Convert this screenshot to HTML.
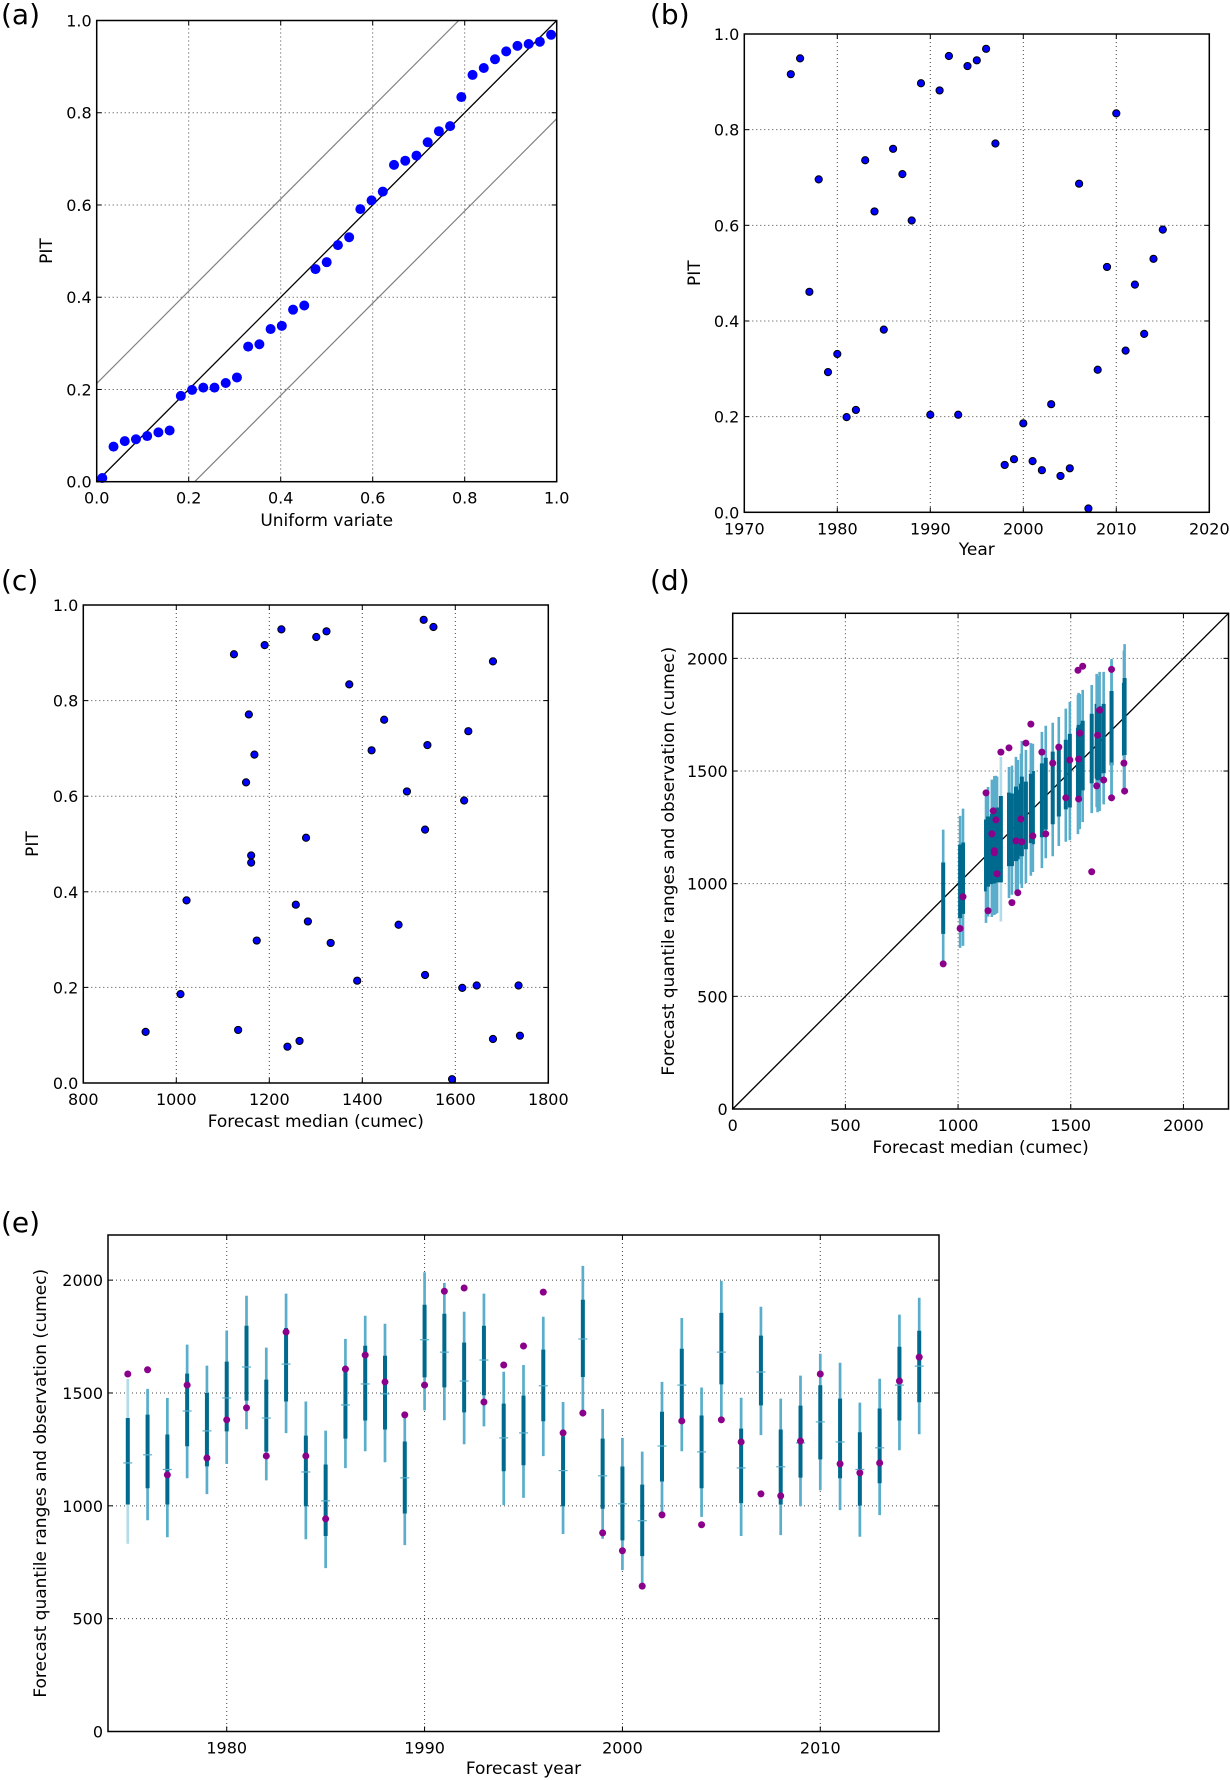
<!DOCTYPE html>
<html><head><meta charset="utf-8"><style>
html,body{margin:0;padding:0;background:#fff;}
svg{display:block;font-family:"DejaVu Sans","Liberation Sans",sans-serif;}
</style></head><body>
<svg id="fig" width="1230" height="1780" viewBox="0 0 1230 1780" xmlns="http://www.w3.org/2000/svg"></svg>
<script>
const years=[1975,1976,1977,1978,1979,1980,1981,1982,1983,1984,1985,1986,1987,1988,1989,1990,1991,1992,1993,1994,1995,1996,1997,1998,1999,2000,2001,2002,2003,2004,2005,2006,2007,2008,2009,2010,2011,2012,2013,2014,2015];
const pit=[0.916,0.949,0.461,0.696,0.293,0.331,0.199,0.214,0.736,0.629,0.382,0.760,0.707,0.610,0.897,0.204,0.882,0.954,0.204,0.933,0.945,0.969,0.771,0.099,0.111,0.186,0.107,0.088,0.226,0.076,0.092,0.687,0.008,0.298,0.513,0.834,0.338,0.476,0.373,0.530,0.591];
const median=[1190,1226,1161,1420,1332,1478,1615,1389,1628,1150,1022,1447,1540,1496,1124,1736,1681,1553,1646,1301,1323,1532,1156,1739,1133,1009,934,1265,1535,1239,1681,1168,1593,1173,1279,1372,1283,1161,1257,1535,1619];
const outerHi=[1562,1518,1478,1714,1621,1777,1931,1701,1940,1462,1333,1740,1842,1807,1389,2035,1988,1860,1940,1594,1624,1838,1460,2063,1429,1301,1240,1549,1832,1524,1997,1479,1882,1475,1577,1674,1634,1457,1563,1847,1922];
const innerHi=[1389,1404,1316,1586,1500,1639,1798,1559,1788,1311,1183,1603,1709,1665,1285,1891,1851,1723,1798,1453,1488,1692,1308,1913,1298,1174,1094,1417,1696,1400,1855,1342,1754,1338,1444,1534,1475,1326,1431,1705,1776];
const innerLo=[1006,1078,1006,1264,1175,1330,1466,1240,1462,998,866,1298,1378,1338,966,1569,1525,1414,1490,1153,1180,1375,998,1571,987,847,777,1108,1389,1078,1538,1012,1445,1006,1125,1206,1122,1001,1100,1378,1459];
const outerLo=[832,936,861,1122,1052,1186,1339,1113,1322,852,724,1167,1242,1193,826,1423,1379,1273,1352,1003,1035,1220,875,1411,854,715,645,969,1242,951,1388,866,1313,870,998,1069,981,863,959,1246,1317];
const observed=[1584,1603,1137,1535,1212,1381,1434,1221,1770,1221,942,1606,1668,1549,1403,1535,1951,1965,1460,1624,1708,1947,1323,1411,880,801,644,960,1376,916,1381,1283,1053,1044,1287,1584,1186,1146,1190,1553,1659];
const ticksUnit=["0.0","0.2","0.4","0.6","0.8","1.0"];
const ticksYear=["1970","1980","1990","2000","2010","2020"];
const ticksMedian=["800","1000","1200","1400","1600","1800"];
const ticksFlow=["0","500","1000","1500","2000"];
const ticksForecastYear=["1980","1990","2000","2010"];

const NS="http://www.w3.org/2000/svg";
const svg=document.getElementById('fig');
function mk(tag,attrs,parent){const e=document.createElementNS(NS,tag);for(const k in attrs)e.setAttribute(k,attrs[k]);(parent||svg).appendChild(e);return e;}
function txt(s,x,y,size,anchor,parent,rot){const t=mk('text',{x:x,y:y,'font-size':size,'text-anchor':anchor||'middle',fill:'#000'},parent);if(rot)t.setAttribute('transform','rotate(-90 '+x+' '+y+')');t.textContent=s;return t;}
function lin(d0,d1,r0,r1){return v=>r0+(v-d0)/(d1-d0)*(r1-r0);}

function axes(name,L,R,T,B,xd,yd,xt,yt,xlab,ylab,xlabY,ylabX,panel,px,py){
  const g=mk('g',{});
  
  
  const X=lin(xd[0],xd[1],L,R),Y=lin(yd[0],yd[1],B,T);
  const grid=mk('g',{},g);
  
  
  xt.forEach(s=>{const v=+s,x=X(v);mk('line',{x1:x,x2:x,y1:T,y2:B,stroke:'#444','stroke-width':1,'stroke-dasharray':'1,3'},grid);});
  yt.forEach(s=>{const v=+s,y=Y(v);mk('line',{x1:L,x2:R,y1:y,y2:y,stroke:'#444','stroke-width':1,'stroke-dasharray':'1,3'},grid);});
  const plot=mk('g',{},g);
  
  
  const frame=mk('g',{},g);
  const xa=mk('g',{},frame);
  
  
  xt.forEach(s=>{const x=X(+s);mk('line',{x1:x,x2:x,y1:B,y2:B-5,stroke:'#000'},xa);mk('line',{x1:x,x2:x,y1:T,y2:T+5,stroke:'#000'},xa);txt(s,x,B+22,16,'middle',xa);});
  const ya=mk('g',{},frame);
  
  
  yt.forEach(s=>{const y=Y(+s);mk('line',{x1:L,x2:L+5,y1:y,y2:y,stroke:'#000'},ya);mk('line',{x1:R,x2:R-5,y1:y,y2:y,stroke:'#000'},ya);txt(s,L-5,y+6,16,'end',ya);});
  const bx=mk('rect',{x:L,y:T,width:R-L,height:B-T,fill:'none',stroke:'#000','stroke-width':1.5},frame);
  
  
  const xl=txt(xlab,(L+R)/2,xlabY,17,'middle',g);
  
  
  const yl=txt(ylab,ylabX,(T+B)/2,17,'middle',g,true);
  
  
  const pl=txt(panel,px,py,28,'start',g);
  
  
  g.appendChild(frame);
  return {X,Y,plot,L,R,T,B};
}

// (a) PIT uniform probability plot
const A=axes('panel-a',96.7,556.7,20.5,481.7,[0,1],[0,1],ticksUnit,ticksUnit,'Uniform variate','PIT',526,52,'(a)',1,24);
{
  const clipId='ca';const cp=mk('clipPath',{id:clipId});mk('rect',{x:A.L,y:A.T,width:A.R-A.L,height:A.B-A.T},cp);
  const lg=mk('g',{'clip-path':'url(#ca)'},A.plot);
  const up=mk('line',{x1:A.X(0),y1:A.Y(0.213),x2:A.X(0.787),y2:A.Y(1),stroke:'#808080','stroke-width':1.2},lg);
  
  
  const lo=mk('line',{x1:A.X(0.213),y1:A.Y(0),x2:A.X(1),y2:A.Y(0.787),stroke:'#808080','stroke-width':1.2},lg);
  
  
  const d=mk('line',{x1:A.X(0),y1:A.Y(0),x2:A.X(1),y2:A.Y(1),stroke:'#000','stroke-width':1.3},lg);
  
  
  const sorted=pit.slice().sort((a,b)=>a-b);const n=sorted.length;
  sorted.forEach((v,i)=>{const c=mk('circle',{cx:A.X((i+0.5)/n),cy:A.Y(v),r:5,fill:'#0000ff'},A.plot);
    
    });
}

// (b) PIT vs year
const Bp=axes('panel-b',744.3,1209.3,34,512.3,[1970,2020],[0,1],ticksYear,ticksUnit,'Year','PIT',555,700,'(b)',650,24);
years.forEach((yr,i)=>{const c=mk('circle',{cx:Bp.X(yr),cy:Bp.Y(pit[i]),r:3.6,fill:'#0000ff',stroke:'#000','stroke-width':1},Bp.plot);
  
  });

// (c) PIT vs forecast median
const C=axes('panel-c',83.3,548.3,605,1083,[800,1800],[0,1],ticksMedian,ticksUnit,'Forecast median (cumec)','PIT',1127,38,'(c)',1,590);
median.forEach((m,i)=>{const c=mk('circle',{cx:C.X(m),cy:C.Y(pit[i]),r:3.6,fill:'#0000ff',stroke:'#000','stroke-width':1},C.plot);
  
  });

function ranges(P,xs,wIn,wOut,medTick,name){
  xs.forEach((x,i)=>{
    const g=mk('g',{},P.plot);
    
    
    const oc=i===0?'#b3dbe8':'#5aaecb';
    mk('line',{x1:x,x2:x,y1:P.Y(outerLo[i]),y2:P.Y(outerHi[i]),stroke:oc,'stroke-width':wOut},g);
    mk('line',{x1:x,x2:x,y1:P.Y(innerLo[i]),y2:P.Y(innerHi[i]),stroke:'#006a8e','stroke-width':wIn},g);
    if(medTick) mk('line',{x1:x-medTick,x2:x+medTick,y1:P.Y(median[i]),y2:P.Y(median[i]),stroke:'#5aaecb','stroke-width':1.2},g);
  });
  xs.forEach((x,i)=>{const c=mk('circle',{cx:x,cy:P.Y(observed[i]),r:3.5,fill:'#8b008b'},P.plot);
    
    });
}

// (d) ranges vs median
const D=axes('panel-d',732.7,1228.5,613.3,1109,[0,2200],[0,2200],ticksFlow,ticksFlow,'Forecast median (cumec)','Forecast quantile ranges and observation (cumec)',1153,674,'(d)',650,590);
{
  const dl=mk('line',{x1:D.X(0),y1:D.Y(0),x2:D.X(2200),y2:D.Y(2200),stroke:'#000','stroke-width':1.3},D.plot);
  
  
  ranges(D,median.map(m=>D.X(m)),4,2.6,0,'range-d');
}

// (e) ranges vs year
const E=axes('panel-e',108,939,1235,1731.5,[1974,2016],[0,2200],ticksForecastYear,ticksFlow,'Forecast year','Forecast quantile ranges and observation (cumec)',1774,46,'(e)',1,1232);
ranges(E,years.map(y=>E.X(y)),4,2.7,4.5,'range-e');
</script>
</body></html>
